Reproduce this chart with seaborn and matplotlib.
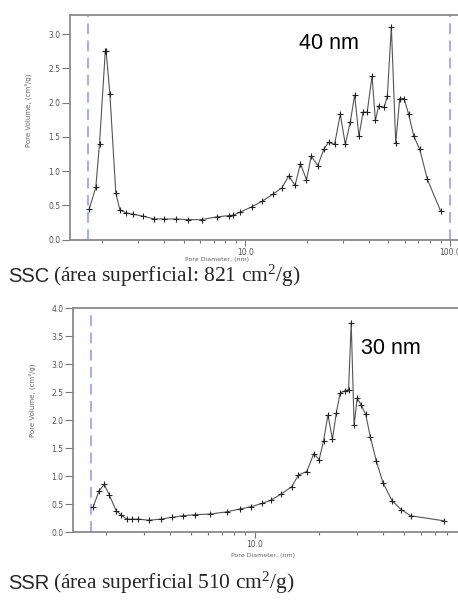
import matplotlib
matplotlib.use("Agg")
import matplotlib.pyplot as plt
import matplotlib.ticker as mticker
import seaborn as sns
import pandas as pd

# ---- data: SSC ----
ssc_diam = [1.73, 1.86, 1.94, 2.07, 2.09, 2.18, 2.33, 2.44, 2.61, 2.82, 3.18, 3.58,
            4.02, 4.57, 5.27, 6.12, 7.25, 8.36, 8.71, 9.46, 10.8, 12.1, 13.6, 15.1,
            16.3, 17.5, 18.6, 19.9, 21.0, 22.6, 24.2, 25.5, 27.3, 29.1, 30.8, 32.6,
            34.2, 35.9, 37.6, 39.4, 41.6, 43.2, 44.8, 47.6, 49.4, 51.7, 54.3, 56.8,
            59.6, 62.8, 66.5, 71.1, 77.5, 90.1]
ssc_vol = [0.45, 0.76, 1.40, 2.75, 2.75, 2.13, 0.68, 0.43, 0.39, 0.37, 0.34, 0.30,
           0.30, 0.30, 0.29, 0.29, 0.33, 0.35, 0.355, 0.40, 0.48, 0.56, 0.66, 0.755,
           0.93, 0.79, 1.11, 0.87, 1.22, 1.08, 1.32, 1.42, 1.39, 1.83, 1.39, 1.72,
           2.11, 1.51, 1.86, 1.86, 2.39, 1.74, 1.95, 1.93, 2.09, 3.11, 1.41, 2.06,
           2.06, 1.83, 1.51, 1.32, 0.88, 0.41]

# ---- data: SSR ----
ssr_diam = [1.74, 1.85, 1.96, 2.07, 2.23, 2.36, 2.50, 2.66, 2.83, 3.18, 3.61, 4.06,
            4.58, 5.23, 6.15, 7.36, 8.48, 9.55, 10.8, 11.9, 13.3, 14.9, 16.0, 17.5,
            18.9, 20.0, 21.0, 22.0, 23.1, 24.1, 25.1, 26.4, 27.5, 28.3, 29.2, 30.2,
            31.5, 33.1, 34.8, 37.1, 39.9, 44.0, 48.6, 53.8, 77.1]
ssr_vol = [0.45, 0.73, 0.85, 0.66, 0.38, 0.30, 0.23, 0.23, 0.23, 0.21, 0.23, 0.26,
           0.29, 0.31, 0.32, 0.36, 0.41, 0.45, 0.51, 0.57, 0.68, 0.81, 1.02, 1.08,
           1.40, 1.29, 1.63, 2.09, 1.66, 2.13, 2.48, 2.52, 2.54, 3.74, 1.91, 2.39,
           2.27, 2.10, 1.70, 1.27, 0.88, 0.56, 0.40, 0.29, 0.20]

ssc_dashes = [1.70, 100.0]
ssr_dashes = [1.70]
ssc_ylim = (0, 3.28)
ssr_ylim = (0, 4.0)
ssc_yticks = [0.0, 0.5, 1.0, 1.5, 2.0, 2.5, 3.0]
ssr_yticks = [0.0, 0.5, 1.0, 1.5, 2.0, 2.5, 3.0, 3.5, 4.0]
ssc_xlim = (1.392, 109.4)
ssr_xlim = (1.398, 89.8)
xlabel = "Pore Diameter, (nm)"
ylabel = "Pore Volume, (cm\u00b3/g)"

sns.set_style("white")
plt.rcParams['font.family'] = ['DejaVu Sans']
plt.rcParams['mathtext.default'] = 'regular'

W, H = 458, 610
fig = plt.figure(figsize=(W / 100, H / 100), dpi=100)

def px_rect(l, t, r, b):
    return [l / W, 1 - b / H, (r - l) / W, (b - t) / H]

ax1 = fig.add_axes(px_rect(70, 15, 458, 239.5))
ax2 = fig.add_axes(px_rect(73, 308, 458, 532))

spine_c = "#8a8a8a"
tick_c = "#777777"

def style(ax, diam, vol, dashes, xlim, ylim, yticks):
    df = pd.DataFrame({"d": diam, "v": vol})
    for xd in dashes:
        ax.axvline(xd, color="#9fa6f5", lw=1.3, dashes=(6, 3.5), zorder=1)
    sns.lineplot(data=df, x="d", y="v", ax=ax, sort=False, estimator=None,
                 color="#555555", lw=0.8, marker="+", markersize=4,
                 markeredgecolor="#222222", markeredgewidth=0.8, zorder=3)
    ax.set_xscale("log")
    ax.set_xlim(*xlim)
    ax.set_ylim(*ylim)
    ax.set_yticks(yticks)
    ax.yaxis.set_major_formatter(mticker.FormatStrFormatter("%.1f"))
    ax.xaxis.set_major_locator(mticker.LogLocator(base=10, numticks=10))
    ax.xaxis.set_major_formatter(mticker.FormatStrFormatter("%.1f"))
    ax.xaxis.set_minor_locator(mticker.LogLocator(base=10, subs=range(2, 10), numticks=20))
    ax.xaxis.set_minor_formatter(mticker.NullFormatter())
    ax.set_xlabel("")
    ax.set_ylabel("")
    ax.spines["right"].set_visible(False)
    for s in ["left", "bottom", "top"]:
        ax.spines[s].set_color(spine_c)
        ax.spines[s].set_linewidth(1.3)
    ax.tick_params(axis="y", which="major", direction="out", length=6, width=0.8,
                   color=tick_c, labelsize=5.5, labelcolor="#555555", pad=1, left=True)
    ax.tick_params(axis="x", which="major", direction="out", length=4, width=0.8,
                   color=tick_c, labelsize=5.5, labelcolor="#555555", pad=2, bottom=True)
    ax.tick_params(axis="x", which="minor", direction="out", length=2, width=0.8,
                   color=tick_c, bottom=True)

style(ax1, ssc_diam, ssc_vol, ssc_dashes, ssc_xlim, ssc_ylim, ssc_yticks)
style(ax2, ssr_diam, ssr_vol, ssr_dashes, ssr_xlim, ssr_ylim, ssr_yticks)

# axis labels (small gray)
fig.text(28 / W, 1 - 110 / H, ylabel, rotation=90, ha="center", va="center",
         fontsize=5, color="#666666")
fig.text(32 / W, 1 - 400 / H, ylabel, rotation=90, ha="center", va="center",
         fontsize=5, color="#666666")
fig.text(217 / W, 1 - 260 / H, xlabel, ha="center", va="center",
         fontsize=4.5, color="#666666")
fig.text(263 / W, 1 - 555 / H, xlabel, ha="center", va="center",
         fontsize=4.5, color="#666666")

# peak annotations
ax1.text(0.59, 0.875, "40 nm", transform=ax1.transAxes, fontsize=15.5,
         family="Liberation Sans", color="black", ha="left", va="center")
ax2.text(0.748, 0.82, "30 nm", transform=ax2.transAxes, fontsize=15.5,
         family="Liberation Sans", color="black", ha="left", va="center")

# captions with mixed fonts
def caption(x_px, base_px, name, rest):
    t1 = fig.text(x_px / W, 1 - base_px / H, name, family="Liberation Sans",
                  fontsize=14.5, ha="left", va="baseline")
    fig.canvas.draw()
    bb = t1.get_window_extent()
    fig.text((bb.x1 + 4) / W, 1 - base_px / H, rest, family="Liberation Serif",
             fontsize=15.5, ha="left", va="baseline")

caption(8, 282, "SSC", "(\u00e1rea superficial: 821 cm$^{2}$/g)")
caption(8, 589, "SSR", "(\u00e1rea superficial 510 cm$^{2}$/g)")

fig.savefig("out.png", dpi=100)
